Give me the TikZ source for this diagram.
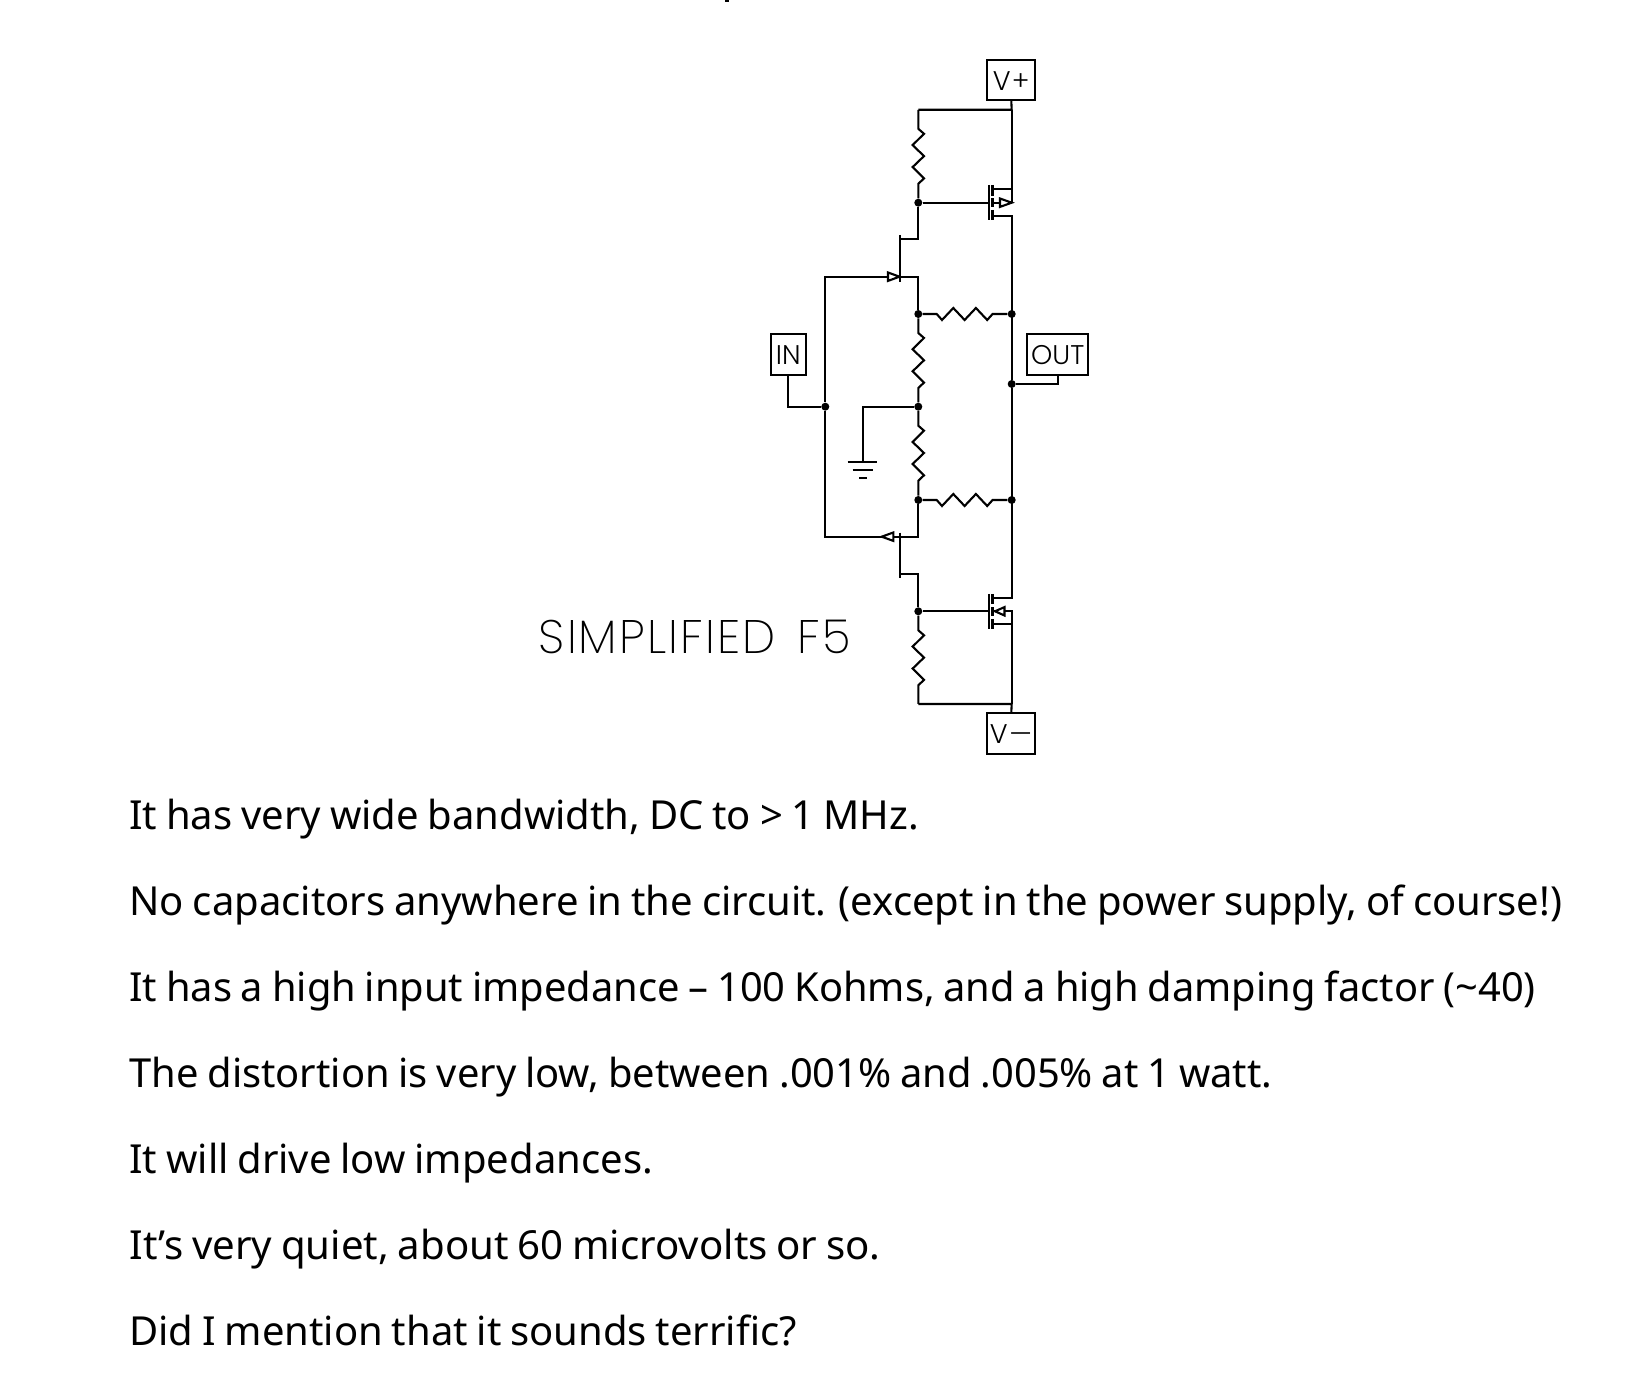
\documentclass[tikz,border=0pt]{standalone}
\usepackage{fontspec}
\setmainfont[WordSpace=0.85]{Noto Sans}
\newfontfamily\schem[LetterSpace=4.5]{Poppins ExtraLight}
\newfontfamily\schemb{Poppins Light}
\tikzset{
  wire/.style={line width=1.05pt,line join=miter,line cap=butt},
  bar/.style={line width=1.15pt},
  dot/.style={circle,fill=black,inner sep=0pt,minimum size=4pt},
  term/.style={draw,line width=1.05pt,inner sep=0pt,font=\schemb\fontsize{13.5}{13.5}\selectfont},
  body/.style={anchor=base west,inner sep=0pt,font=\fontsize{20}{24}\selectfont},
}
\newcommand\vresistor[2]{\draw[wire] (#1) -- ++(0,19) -- ++(5.7,5) -- ++(-11.4,11.3) -- ++(11.4,11) -- ++(-11.4,11) -- ++(11.4,11.3) -- ++(-5.7,5.4) -- (#2);}
\newcommand\hresistor[2]{\draw[wire] (#1) -- ++(18.4,0) -- ++(5.3,6) -- ++(11.3,-12) -- ++(11.3,12) -- ++(11.3,-12) -- ++(11.3,12) -- ++(5.4,-6) -- (#2);}
\begin{document}
\begin{tikzpicture}[x=0.5pt,y=-0.5pt]
\useasboundingbox (0,0) rectangle (1645,1379);
% named points
\coordinate (topl) at (918.3,109.8);
\coordinate (topr) at (1011.7,109.8);
\coordinate (botl) at (918.3,704);
\coordinate (botr) at (1011.7,704);
\node[dot] (n1) at (918.3,202.7) {};
\node[dot] (n2) at (918.3,314) {};
\node[dot] (n3) at (1011.7,314) {};
\node[dot] (n4) at (1011.7,384) {};
\node[dot] (n5) at (825.3,406.7) {};
\node[dot] (n6) at (918.3,406.7) {};
\node[dot] (n7) at (918.3,500) {};
\node[dot] (n8) at (1011.7,500) {};
\node[dot] (n9) at (918.3,611.3) {};
% terminals
\node[term,minimum width=24pt,minimum height=20pt] (vp) at (1011.3,80) {\raisebox{-1.2pt}[8pt][0pt]{V\kern0.6pt+}};
\node[term,minimum width=24pt,minimum height=20.3pt] (vm) at (1011.3,733.7) {\raisebox{-1pt}[8pt][0pt]{V\kern0.6pt\scalebox{1.35}[1]{–}}};
\node[term,minimum width=17.6pt,minimum height=20.3pt] (in) at (788.3,354.3) {\raisebox{-1pt}[8pt][0pt]{IN}};
\node[term,minimum width=30.6pt,minimum height=20.3pt] (out) at (1057.7,354.3) {\raisebox{-1pt}[8pt][0pt]{OUT}};
% stray cut-off mark at the top edge
\fill (725,0) rectangle (728.5,2);
% supply wires and resistors
\draw[wire] (vp.south) -- (topr) -- (topl);
\draw[wire] (topr) -- (1011.7,202.7);
\vresistor{topl}{n1}
\vresistor{n2}{n6}
\vresistor{n6}{n7}
\vresistor{n9}{botl}
\hresistor{n2}{n3}
\hresistor{n7}{n8}
\draw[wire] (botl) -- (botr) -- (vm.north);
% upper MOSFET
\coordinate (qa) at (992.3,189);
\coordinate (qb) at (992.3,216);
\draw[wire] (n1) -- (989,202.7);
\draw[bar] (989,185) -- (989,220.5);
\draw[bar] (992.5,185) -- (992.5,196) (992.5,198.5) -- (992.5,207) (992.5,210) -- (992.5,220.5);
\draw[wire] (qa) -- (1011.7,189);
\draw[wire] (qb) -- (1011.7,216) -- (n4);
\draw[wire] (992.3,202.7) -- (1000,202.7);
\draw[wire] (1000,198.5) -- (1011.7,202.7) -- (1000,206.9) -- cycle;
% lower MOSFET
\draw[wire] (n9) -- (989,611.3);
\draw[bar] (989,594) -- (989,629.5);
\draw[bar] (992.5,594) -- (992.5,604.5) (992.5,607.5) -- (992.5,616) (992.5,619) -- (992.5,629.5);
\draw[wire] (992.3,598.3) -- (1011.7,598.3) -- (n4);
\draw[wire] (992.3,624.3) -- (1011.7,624.3);
\draw[wire] (992.3,611.3) -- (995,611.3);
\draw[wire] (995,611.3) -- (1004.5,607.1) -- (1004.5,615.5) -- cycle;
\draw[wire] (1004.5,611.3) -- (1011.7,611.3) -- (botr);
% upper JFET
\draw[bar] (900,235) -- (900,282);
\draw[wire] (900,239.3) -- (918.3,239.3) -- (n1);
\draw[wire] (n5) -- (825.3,276.7) -- (888,276.7);
\draw[wire] (888,272.5) -- (899.5,276.7) -- (888,280.9) -- cycle;
\draw[wire] (899.5,276.7) -- (918.3,276.7) -- (n2);
% lower JFET
\draw[bar] (900,532.7) -- (900,578.3);
\draw[wire] (900,574) -- (918.3,574) -- (n9);
\draw[wire] (n5) -- (825.3,536.7) -- (881.7,536.7);
\draw[wire] (881.7,536.7) -- (893.3,532.5) -- (893.3,540.9) -- cycle;
\draw[wire] (893.3,536.7) -- (918.3,536.7) -- (n7);
% input, output
\draw[wire] (in.south) |- (n5);
\draw[wire] (out.south) |- (n4);
% ground
\coordinate (gnd) at (862.7,462.3);
\draw[wire] (n6) -| (gnd);
\draw[wire] (847.7,462.3) -- (877.3,462.3);
\draw[wire] (852.7,470) -- (872.7,470);
\draw[wire] (859,477.7) -- (867.3,477.7);
% title
\node[anchor=base west,inner sep=0pt,font=\schem\fontsize{23.5}{24}\selectfont] (title) at (538.5,653.3) {SIMPLIFIED\kern11pt F5};
% body text
\node[body] (t1) at (129,829.3) {It has very wide bandwidth, DC to > 1 MHz.};
\node[body] (t2) at (129,915.3) {No capacitors anywhere in the circuit. (except in the power supply, of course!)};
\node[body] (t3) at (129,1001.3) {\scalebox{0.996}[1]{It has a high input impedance – 100 Kohms, and a high damping factor (\textasciitilde 40)}};
\node[body] (t4) at (129,1087.3) {\scalebox{0.997}[1]{The distortion is very low, between .001\% and .005\% at 1 watt.}};
\node[body] (t5) at (129,1173.3) {It will drive low impedances.};
\node[body] (t6) at (129,1259.3) {\scalebox{1.004}[1]{It’s very quiet, about 60 microvolts or so.}};
\node[body] (t7) at (129,1345.3) {Did I mention that it sounds terrific?};
\end{tikzpicture}
\end{document}
